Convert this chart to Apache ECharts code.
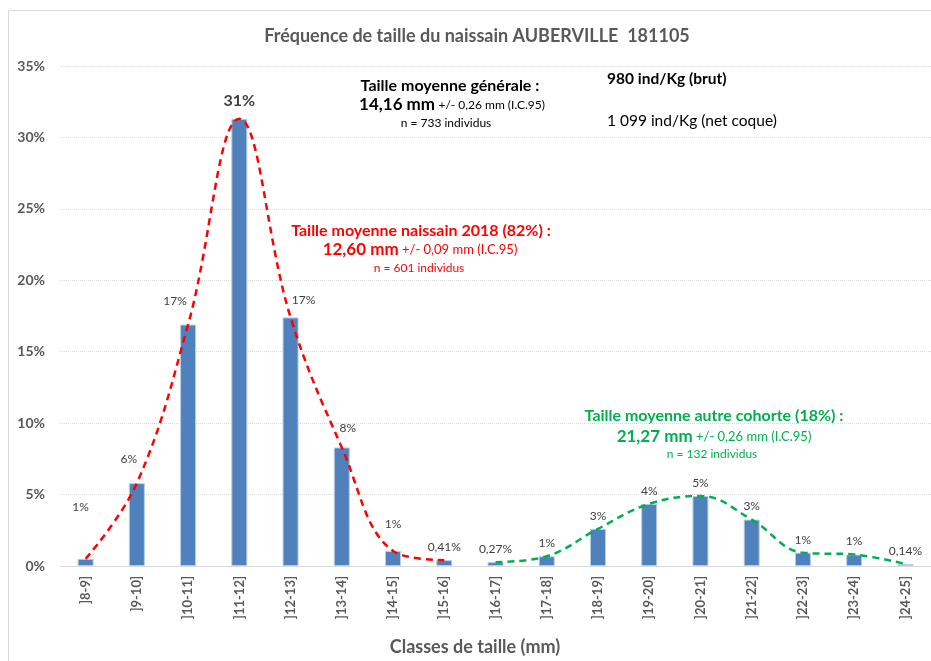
<!DOCTYPE html>
<html>
<head>
<meta charset="utf-8">
<script src="https://cdn.jsdelivr.net/npm/echarts@6/dist/echarts.min.js"></script>
<style>
  html, body { margin: 0; padding: 0; background: #fff; }
  #chart { width: 931px; height: 661px; }
</style>
</head>
<body>
<div id="chart"></div>
<script>
const categories = [']8-9]', ']9-10]', ']10-11]', ']11-12]', ']12-13]', ']13-14]', ']14-15]', ']15-16]', ']16-17]',
  ']17-18]', ']18-19]', ']19-20]', ']20-21]', ']21-22]', ']22-23]', ']23-24]', ']24-25]'];
// frequence (%) par classe
const freq = [0.5, 5.8, 16.9, 31.3, 17.4, 8.3, 1.05, 0.41, 0.27, 0.68, 2.6, 4.35, 4.9, 3.25, 0.93, 0.8, 0.14];
const barLabels = ['1%', '6%', '17%', '31%', '17%', '8%', '1%', '0,41%', '0,27%', '1%', '3%', '4%', '5%', '3%', '1%', '1%', '0,14%'];
// courbes par cohorte
const cohort2018 = [0.5, 5.8, 16.9, 31.3, 17.4, 8.3, 1.05, 0.41, null, null, null, null, null, null, null, null, null];
const cohortOther = [null, null, null, null, null, null, null, null, 0.27, 0.68, 2.6, 4.35, 4.9, 3.25, 0.93, 0.8, 0.14];
const yTicks = [0, 5, 10, 15, 20, 25, 30, 35];

const FONT = 'Lato';
const grey = '#595959';

// petits decalages d'etiquettes (deplacees a la main dans l'original)
const labelShift = { 0: [-5, -39], 1: [-8, -11], 2: [-13, -10], 3: [0, -3], 4: [13, -4], 5: [6, -6], 6: [0, -14] };

const chart = echarts.init(document.getElementById('chart'));

const barData = freq.map(function (v, i) {
  const item = { value: v, label: { formatter: barLabels[i] } };
  if (labelShift[i]) item.label.offset = labelShift[i];
  if (i === 3) {
    item.label.fontSize = 16;
    item.label.fontWeight = 'bold';
  }
  return item;
});

function noteLine(x, y, big, small, color, bigSize, smallSize) {
  return {
    type: 'text', x: x, y: y,
    style: {
      text: '{a|' + big + '} {b|' + small + '}', align: 'center', verticalAlign: 'middle',
      rich: {
        a: { fontFamily: FONT, fontSize: bigSize, fontWeight: 'bold', fill: color },
        b: { fontFamily: FONT, fontSize: smallSize, fill: color }
      }
    }
  };
}

function text(x, y, str, color, font, align) {
  return { type: 'text', x: x, y: y, style: { text: str, fill: color, font: font, align: align || 'center', verticalAlign: 'middle' } };
}

const option = {
  animation: false,
  textStyle: { fontFamily: FONT },
  grid: { left: 60, right: 0, top: 66, bottom: 95, containLabel: false },
  xAxis: {
    type: 'category',
    data: categories,
    axisLine: { lineStyle: { color: '#d9d9d9', width: 1 } },
    axisTick: { show: false },
    axisLabel: { rotate: 90, color: grey, fontSize: 13, fontWeight: 'bold', fontFamily: FONT, margin: 10, interval: 0 }
  },
  yAxis: {
    type: 'value',
    min: yTicks[0],
    max: yTicks[yTicks.length - 1],
    interval: 5,
    axisLine: { show: false },
    axisTick: { show: false },
    axisLabel: { formatter: '{value}%', color: grey, fontSize: 14, fontWeight: 'bold', fontFamily: FONT, margin: 15 },
    splitLine: { lineStyle: { color: '#d9d9d9', type: 'dotted', width: 1 } }
  },
  series: [
    {
      type: 'bar',
      data: barData,
      barWidth: 16,
      itemStyle: { color: '#4f81bd', borderColor: '#b9cde5', borderWidth: 1 },
      label: { show: true, position: 'top', distance: 7, color: '#404040', fontSize: 12, fontFamily: FONT },
      z: 2
    },
    {
      type: 'line',
      data: cohort2018,
      smooth: 0.4,
      showSymbol: false,
      lineStyle: { color: '#ff0000', width: 2.5, type: [7, 5] },
      z: 3
    },
    {
      type: 'line',
      data: cohortOther,
      smooth: 0.4,
      showSymbol: false,
      lineStyle: { color: '#00b050', width: 2.5, type: [7, 5] },
      z: 3
    }
  ],
  graphic: [
    { type: 'rect', shape: { x: 8.5, y: 10.5, width: 940, height: 700 }, style: { fill: 'none', stroke: '#d9d9d9', lineWidth: 1 }, silent: true },
    text(477, 36, 'Fréquence de taille du naissain AUBERVILLE  181105', grey, 'bold 18px ' + FONT),
    text(475, 647, 'Classes de taille (mm)', grey, 'bold 18px ' + FONT),

    // moyenne generale
    text(450, 86, 'Taille moyenne générale :', '#000', 'bold 16px ' + FONT),
    noteLine(452, 105, '14,16 mm', '+/- 0,26 mm (I.C.95)', '#000', 17, 12),
    text(446, 123, 'n = 733 individus', '#000', '12px ' + FONT),

    text(607, 79, '980 ind/Kg (brut)', '#000', 'bold 15.5px ' + FONT, 'left'),
    text(607, 121, '1 099 ind/Kg (net coque)', '#000', '15.5px ' + FONT, 'left'),

    // naissain 2018
    text(421, 231, 'Taille moyenne naissain 2018 (82%) :', '#ff0000', 'bold 16px ' + FONT),
    noteLine(420, 250, '12,60 mm', '+/- 0,09 mm (I.C.95)', '#ff0000', 17, 13),
    text(419, 268, 'n = 601 individus', '#ff0000', '12px ' + FONT),

    // autre cohorte
    text(714, 416, 'Taille moyenne autre cohorte (18%) :', '#00b050', 'bold 16px ' + FONT),
    noteLine(714, 437, '21,27 mm', '+/- 0,26 mm (I.C.95)', '#00b050', 17, 13),
    text(712, 454, 'n = 132 individus', '#00b050', '12px ' + FONT)
  ]
};

chart.setOption(option);
</script>
</body>
</html>
